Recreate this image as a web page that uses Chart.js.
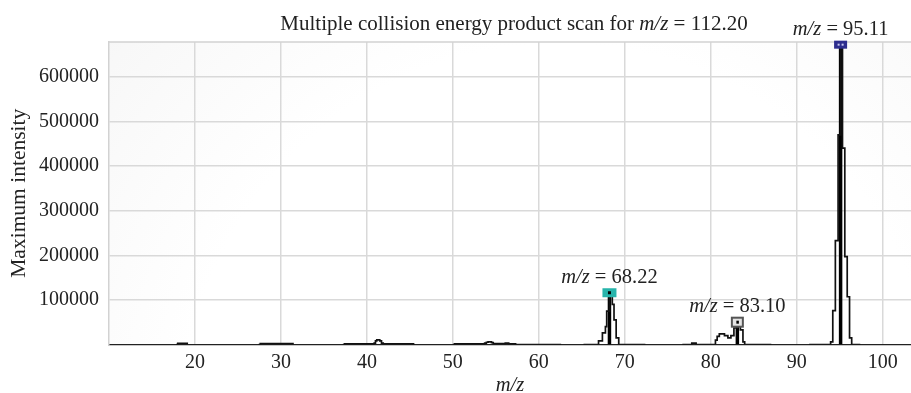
<!DOCTYPE html>
<html>
<head>
<meta charset="utf-8">
<script src="https://cdn.jsdelivr.net/npm/chart.js@4.4.1/dist/chart.umd.min.js"></script>
<style>
  html, body { margin: 0; padding: 0; background: #fff; }
  #wrap { width: 911px; height: 393px; position: relative; }
</style>
</head>
<body>
<div id="wrap"><canvas id="graficoScan"></canvas></div>
<script>
const precursor = '112.20';
const xTicks = [20, 30, 40, 50, 60, 70, 80, 90, 100];
const yTicks = [100000, 200000, 300000, 400000, 500000, 600000];

// profile trace (null = no data between the scan windows)
const profileMz = [
  17.8, 18.0, 18.9, 19.1, 19.5,
  27.4, 27.6, 31.2, 31.4, 32.0,
  37.2, 37.4, 40.85, 41.0, 41.15, 41.5, 41.7, 41.9, 45.4, 45.6, 47.0,
  50.0, 50.2, 53.7, 53.9, 54.1, 54.5, 54.7, 56.1, 56.5, 57.3, 62.6, 64.0,
  65.2, 66.95, 67.4, 67.75, 67.9, 68.22, 68.55, 68.75, 69.0, 69.3, 72.4, 74.0,
  76.7, 77.8, 78.3, 80.55, 80.75, 81.0, 81.6, 82.0, 82.35, 82.7, 83.1, 83.45, 83.75, 83.95, 87.05, 89.0,
  91.45, 93.95, 94.2, 94.5, 94.82, 95.11, 95.33, 95.6, 95.88, 96.15, 96.4, 97.4
];
const profileIntensity = [
  0, 2500, 2500, 0, null,
  0, 2000, 2000, 0, null,
  0, 1500, 3000, 8000, 10500, 8000, 3000, 1500, 0, 0, null,
  0, 1500, 3000, 5000, 6000, 4000, 2000, 3000, 1500, 0, 0, null,
  0, 8000, 26000, 40000, 75000, 116000, 90000, 55000, 15000, 0, 0, null,
  0, 3000, 0, 10000, 18000, 24000, 20000, 15000, 20000, 37000, 50000, 33000, 6000, 0, 0, null,
  0, 6000, 76000, 233000, 470000, 672000, 440000, 197000, 107000, 15000, 0, 0
];

// labelled peaks
const peakMz = [68.22, 83.10, 95.11];
const peakIntensity = [116000, 50000, 672000];

const SERIF = '"Liberation Serif", "Times New Roman", serif';

function drawParts(ctx, parts, x, y, size, align) {
  let total = 0;
  parts.forEach(p => {
    ctx.font = (p.italic ? 'italic ' : '') + size + 'px ' + SERIF;
    p.w = ctx.measureText(p.t).width;
    total += p.w;
  });
  let cx = align === 'center' ? x - total / 2 : x;
  ctx.textAlign = 'left';
  ctx.textBaseline = 'alphabetic';
  parts.forEach(p => {
    ctx.font = (p.italic ? 'italic ' : '') + size + 'px ' + SERIF;
    ctx.fillText(p.t, cx, y);
    cx += p.w;
  });
}

function drawMarker(ctx, kind, x, y) {
  if (kind === 0) {
    ctx.fillStyle = '#27b4ab';
    ctx.fillRect(x - 7, y - 4.5, 14, 9);
    ctx.fillStyle = '#000';
    ctx.fillRect(x - 1.5, y - 1.5, 3, 3);
  } else if (kind === 1) {
    ctx.fillStyle = '#e4e4e4';
    ctx.fillRect(x - 5.5, y - 4.5, 11, 9);
    ctx.strokeStyle = '#555';
    ctx.lineWidth = 2;
    ctx.strokeRect(x - 5.5, y - 4.5, 11, 9);
    ctx.fillStyle = '#000';
    ctx.fillRect(x - 1, y - 1.5, 2.5, 3);
  } else {
    ctx.fillStyle = '#2d2d8e';
    ctx.fillRect(x - 6.5, y - 4, 13, 8);
    ctx.fillStyle = '#c8c8f0';
    ctx.fillRect(x - 3, y - 1, 2, 2);
    ctx.fillRect(x + 1, y - 1, 2, 2);
  }
}

const decor = {
  id: 'decor',
  beforeDraw(chart) {
    const { ctx, chartArea: a } = chart;
    ctx.save();
    const g = ctx.createRadialGradient(560, 420, 40, 560, 420, 600);
    g.addColorStop(0, '#ffffff');
    g.addColorStop(0.6, '#ffffff');
    g.addColorStop(1, '#f7f7f7');
    ctx.fillStyle = g;
    ctx.fillRect(a.left, a.top, a.right - a.left, a.bottom - a.top);
    ctx.restore();
  },
  afterDraw(chart) {
    const { ctx, chartArea: a, scales } = chart;
    ctx.save();
    // top frame line
    ctx.strokeStyle = '#d2d2d2';
    ctx.lineWidth = 1.5;
    ctx.beginPath();
    ctx.moveTo(a.left, a.top);
    ctx.lineTo(a.right, a.top);
    ctx.stroke();

    ctx.fillStyle = '#222';
    drawParts(ctx, [
      { t: 'Multiple collision energy product scan for ' },
      { t: 'm/z', italic: true },
      { t: ' = ' + precursor }
    ], (a.left + a.right) / 2 + 4, 29.5, 21, 'center');

    peakMz.forEach((m, i) => {
      const px = scales.x.getPixelForValue(m);
      const py = scales.y.getPixelForValue(peakIntensity[i]);
      drawMarker(ctx, i, px, py);
      ctx.fillStyle = '#222';
      drawParts(ctx, [
        { t: 'm/z', italic: true },
        { t: ' = ' + m.toFixed(2) }
      ], px, py - 10, 20.5, 'center');
    });
    ctx.restore();
  }
};

document.addEventListener('DOMContentLoaded', function() {
  const profile = profileMz.map((m, i) => ({ x: m, y: profileIntensity[i] }));
  const sticks = [];
  peakMz.forEach((m, i) => {
    sticks.push({ x: m, y: 0 }, { x: m, y: peakIntensity[i] }, { x: m, y: null });
  });

  const ctx = document.getElementById('graficoScan').getContext('2d');
  new Chart(ctx, {
    type: 'line',
    data: {
      datasets: [{
        label: 'Profile',
        data: profile,
        borderColor: '#111',
        borderWidth: 1.7,
        stepped: true,
        pointRadius: 0,
        spanGaps: false
      }, {
        label: 'Peaks',
        data: sticks,
        borderColor: '#000',
        borderWidth: 3.5,
        pointRadius: 0,
        spanGaps: false
      }]
    },
    options: {
      responsive: true,
      maintainAspectRatio: false,
      animation: false,
      layout: { padding: { top: 42, left: 0, right: 0, bottom: 0 } },
      scales: {
        x: {
          type: 'linear',
          min: 10,
          max: 103.3,
          afterBuildTicks: s => { s.ticks = xTicks.map(v => ({ value: v })); },
          afterFit: s => { s.height = 48.5; },
          grid: { color: '#d9d9d9', lineWidth: 1.5, drawTicks: false },
          border: { display: true, color: '#222', width: 1.2 },
          ticks: {
            padding: 6,
            color: '#222',
            maxRotation: 0,
            font: { family: SERIF, size: 20 }
          },
          title: {
            display: true,
            text: 'm/z',
            color: '#222',
            padding: { top: 0, bottom: 0 },
            font: { family: SERIF, size: 20.5, style: 'italic', lineHeight: 0.7 }
          }
        },
        y: {
          min: 0,
          max: 678000,
          afterBuildTicks: s => { s.ticks = yTicks.map(v => ({ value: v })); },
          afterFit: s => { s.width = 109; },
          grid: { color: '#d9d9d9', lineWidth: 1.5, drawTicks: false },
          border: { display: true, color: '#d2d2d2', width: 1.5 },
          ticks: {
            padding: 10,
            color: '#222',
            font: { family: SERIF, size: 20 },
            callback: v => String(v)
          },
          title: {
            display: true,
            text: 'Maximum intensity',
            color: '#222',
            padding: { top: 6, bottom: 0 },
            font: { family: SERIF, size: 21.5 }
          }
        }
      },
      plugins: {
        legend: { display: false },
        tooltip: { enabled: false }
      }
    },
    plugins: [decor]
  });
});
</script>
</body>
</html>
